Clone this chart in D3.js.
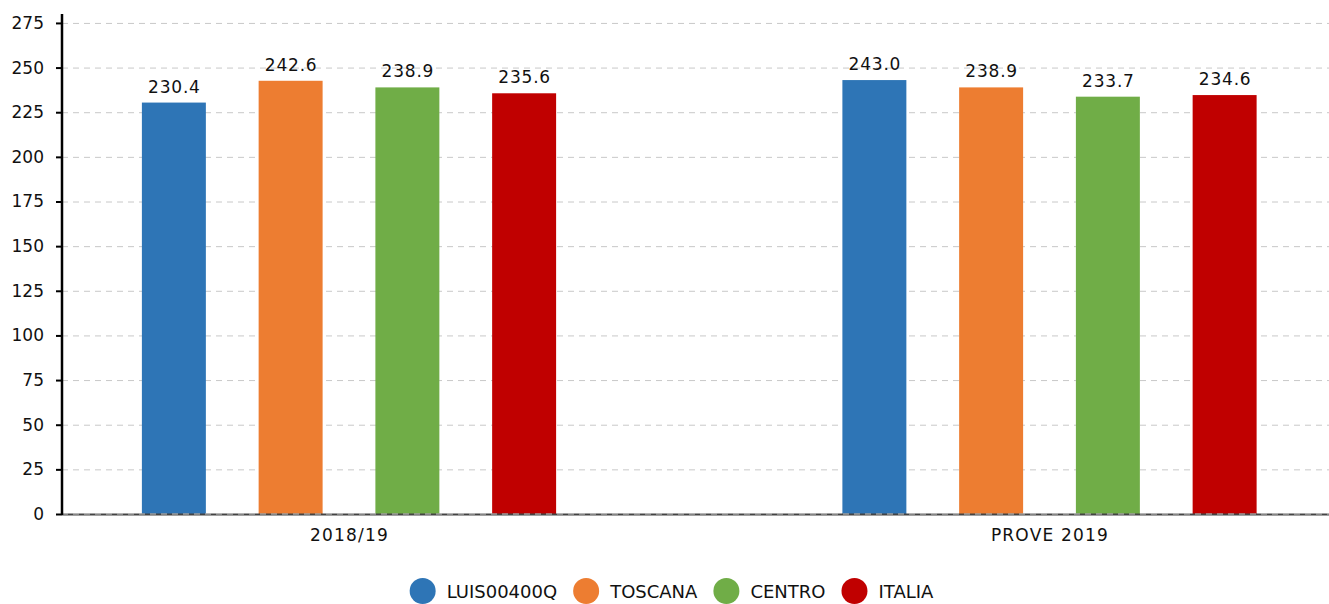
<!DOCTYPE html>
<html>
<head>
<meta charset="utf-8">
<script src="https://cdn.jsdelivr.net/npm/d3@7"></script>
<style>
body { margin: 0; background: #fff; }
text { font-family: "DejaVu Sans", sans-serif; fill: #111; }
</style>
</head>
<body>
<svg id="chart" width="1329" height="604"></svg>
<script>
// data
let categories = ["2018/19", "PROVE 2019"];
let seriesNames = ["LUIS00400Q", "TOSCANA", "CENTRO", "ITALIA"];
let seriesColors = ["#2e75b6", "#ed7d31", "#70ad47", "#c00000"];
let values = [
    [230.4, 243.0],   // LUIS00400Q
    [242.6, 238.9],   // TOSCANA
    [238.9, 233.7],   // CENTRO
    [235.6, 234.6]    // ITALIA
];
let yTicks = [0, 25, 50, 75, 100, 125, 150, 175, 200, 225, 250, 275];

let svg = d3.select("#chart");
let plotLeft = 62, plotRight = 1329, plotTop = 14, plotBottom = 514;

let y = d3.scaleLinear().domain([0, 280]).range([plotBottom, plotTop]);
let x0 = d3.scalePoint().domain(categories).range([349, 1049.5]);
let x1 = d3.scaleBand().domain(seriesNames).range([-233.5, 233.5])
    .paddingInner(0.452).paddingOuter(0.226);

// grid
let grid = svg.append("g");
grid.selectAll("line").data(yTicks).enter().append("line")
    .attr("x1", plotLeft).attr("x2", plotRight)
    .attr("y1", d => y(d) + 0.5).attr("y2", d => y(d) + 0.5)
    .attr("stroke", "#c8c8c8").attr("stroke-dasharray", "6,5");

// bars
let groups = svg.append("g").selectAll("g").data(categories).enter().append("g")
    .attr("transform", d => "translate(" + x0(d) + ",0)");

groups.each(function (cat, ci) {
    let g = d3.select(this);
    let rows = seriesNames.map((s, si) => ({ s: s, v: values[si][ci], c: seriesColors[si] }));
    g.selectAll("rect").data(rows).enter().append("rect")
        .attr("x", d => x1(d.s)).attr("width", x1.bandwidth())
        .attr("y", d => y(d.v)).attr("height", d => y(0) - y(d.v))
        .attr("fill", d => d.c);
    g.selectAll("text").data(rows).enter().append("text")
        .attr("x", d => x1(d.s) + x1.bandwidth() / 2 + 0.5)
        .attr("y", d => y(d.v) - 10)
        .attr("text-anchor", "middle")
        .style("font-size", "17px").style("letter-spacing", "0.8px")
        .text(d => d.v.toFixed(1));
});

// x axis baseline
svg.append("line").attr("x1", plotLeft).attr("x2", plotRight)
    .attr("y1", plotBottom + 0.5).attr("y2", plotBottom + 0.5)
    .attr("stroke", "#444").attr("stroke-width", 2);
svg.append("line").attr("x1", plotLeft).attr("x2", plotRight)
    .attr("y1", plotBottom).attr("y2", plotBottom)
    .attr("stroke", "#c8c8c8").attr("stroke-dasharray", "6,5");

svg.append("g").selectAll("text").data(categories).enter().append("text")
    .attr("x", d => x0(d) + 0.5).attr("y", 541)
    .attr("text-anchor", "middle")
    .style("font-size", "17px").style("letter-spacing", "1.2px")
    .text(d => d);

// y axis
let yAxis = svg.append("g").attr("transform", "translate(" + plotLeft + ",0)")
    .call(d3.axisLeft(y).tickValues(yTicks).tickSize(6).tickPadding(12));
yAxis.select(".domain").attr("stroke", "#000").attr("stroke-width", 2.5)
    .attr("d", "M0," + plotTop + "V" + (plotBottom + 1));
yAxis.selectAll(".tick line").attr("stroke", "#000").attr("stroke-width", 2);
yAxis.selectAll(".tick text").style("font-size", "17px")
    .style("font-family", "DejaVu Sans").attr("fill", "#111");

// legend
let legend = svg.append("g");
let items = legend.selectAll("g").data(seriesNames).enter().append("g");
items.append("circle").attr("r", 13).attr("cy", 0)
    .attr("fill", (d, i) => seriesColors[i]);
items.append("text").attr("x", 24).attr("y", 6.5)
    .style("font-size", "18px")
    .text(d => d);
let pos = 0, offsets = [];
items.each(function () {
    offsets.push(pos);
    let w = d3.select(this).select("text").node().getComputedTextLength();
    pos += 13 + 24 + w + 16;
});
let total = pos - 16;
let start = 671.5 - total / 2 + 13;
items.attr("transform", (d, i) => "translate(" + (start + offsets[i]) + ",591)");
</script>
</body>
</html>
